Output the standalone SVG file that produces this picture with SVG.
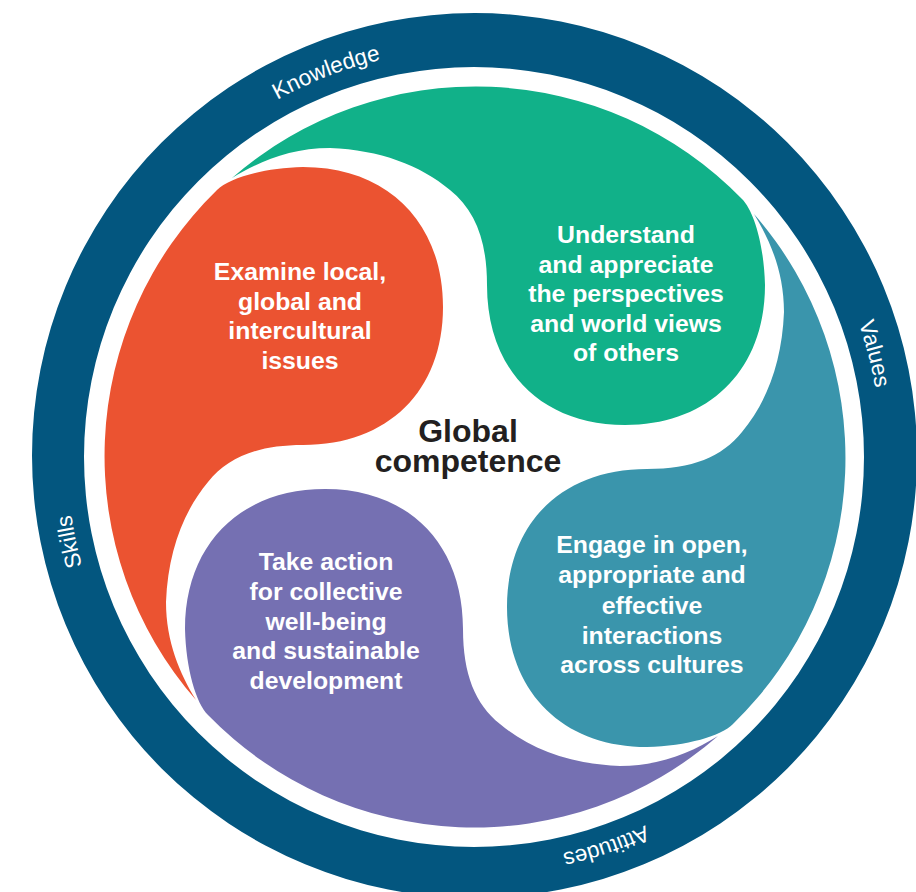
<svg xmlns="http://www.w3.org/2000/svg" width="916" height="892" viewBox="0 0 916 892">
<style>
.ring-label{font-family:"Liberation Sans",Arial,Helvetica,sans-serif;font-size:22.5px;fill:#ffffff}
.petal-text{font-family:"Liberation Sans",Arial,Helvetica,sans-serif;font-size:24.8px;font-weight:bold;fill:#ffffff;text-anchor:middle}
.center-text{font-family:"Liberation Sans",Arial,Helvetica,sans-serif;font-size:32px;font-weight:bold;fill:#231f20;text-anchor:middle}
</style>
<defs>
<path id="petal" d="M 232,178 A 371,371 0 0,1 742,199 C 754,211 764,245 765,285 C 765,370 709,425 625,425 C 541,425 487,370 487,285 C 487,240 475,210 450,190 C 420,165 380,150 330,148 C 290,148 258,162 232,178 Z"/>
<path id="labelArc" d="M 67,456 A 407,407 0 1,1 881,456 A 407,407 0 1,1 67,456"/>
</defs>
<rect x="0" y="0" width="916" height="892" fill="#ffffff"/>
<g id="ring">
<path fill="#03567F" fill-rule="evenodd" d="M 32,455.5 A 442.5,442.5 0 1,1 917,455.5 A 442.5,442.5 0 1,1 32,455.5 Z M 84,457 A 390,390 0 1,0 864,457 A 390,390 0 1,0 84,457 Z"/>
<text class="ring-label" text-anchor="middle"><textPath href="#labelArc" startOffset="489.4">Knowledge</textPath></text>
<text class="ring-label" text-anchor="middle"><textPath href="#labelArc" startOffset="1176.3">Values</textPath></text>
<text class="ring-label" text-anchor="middle"><textPath href="#labelArc" startOffset="1784.4">Attitudes</textPath></text>
<text class="ring-label" text-anchor="middle"><textPath href="#labelArc" startOffset="2471.3">Skills</textPath></text>
</g>
<g id="examine">
<use href="#petal" transform="rotate(-90 475 457)" fill="#EB5331"/>
<text class="petal-text"><tspan x="300" y="280">Examine local,</tspan><tspan x="300" y="309.5">global and</tspan><tspan x="300" y="339">intercultural</tspan><tspan x="300" y="368.5">issues</tspan></text>
</g>
<g id="understand">
<use href="#petal" fill="#11B189"/>
<text class="petal-text"><tspan x="626" y="243">Understand</tspan><tspan x="626" y="272.5">and appreciate</tspan><tspan x="626" y="302">the perspectives</tspan><tspan x="626" y="331.5">and world views</tspan><tspan x="626" y="361">of others</tspan></text>
</g>
<g id="engage">
<use href="#petal" transform="rotate(90 475 457)" fill="#3A95AC"/>
<text class="petal-text"><tspan x="652" y="553.3">Engage in open,</tspan><tspan x="652" y="583.2">appropriate and</tspan><tspan x="652" y="613.5">effective</tspan><tspan x="652" y="643.5">interactions</tspan><tspan x="652" y="673">across cultures</tspan></text>
</g>
<g id="take-action">
<use href="#petal" transform="rotate(180 475 457)" fill="#7570B2"/>
<text class="petal-text"><tspan x="326" y="569.7">Take action</tspan><tspan x="326" y="599.5">for collective</tspan><tspan x="326" y="629.5">well-being</tspan><tspan x="326" y="659.3">and sustainable</tspan><tspan x="326" y="689">development</tspan></text>
</g>
<g id="global-competence">
<text class="center-text"><tspan x="468" y="441.7">Global</tspan><tspan x="468" y="471.7">competence</tspan></text>
</g>
</svg>
